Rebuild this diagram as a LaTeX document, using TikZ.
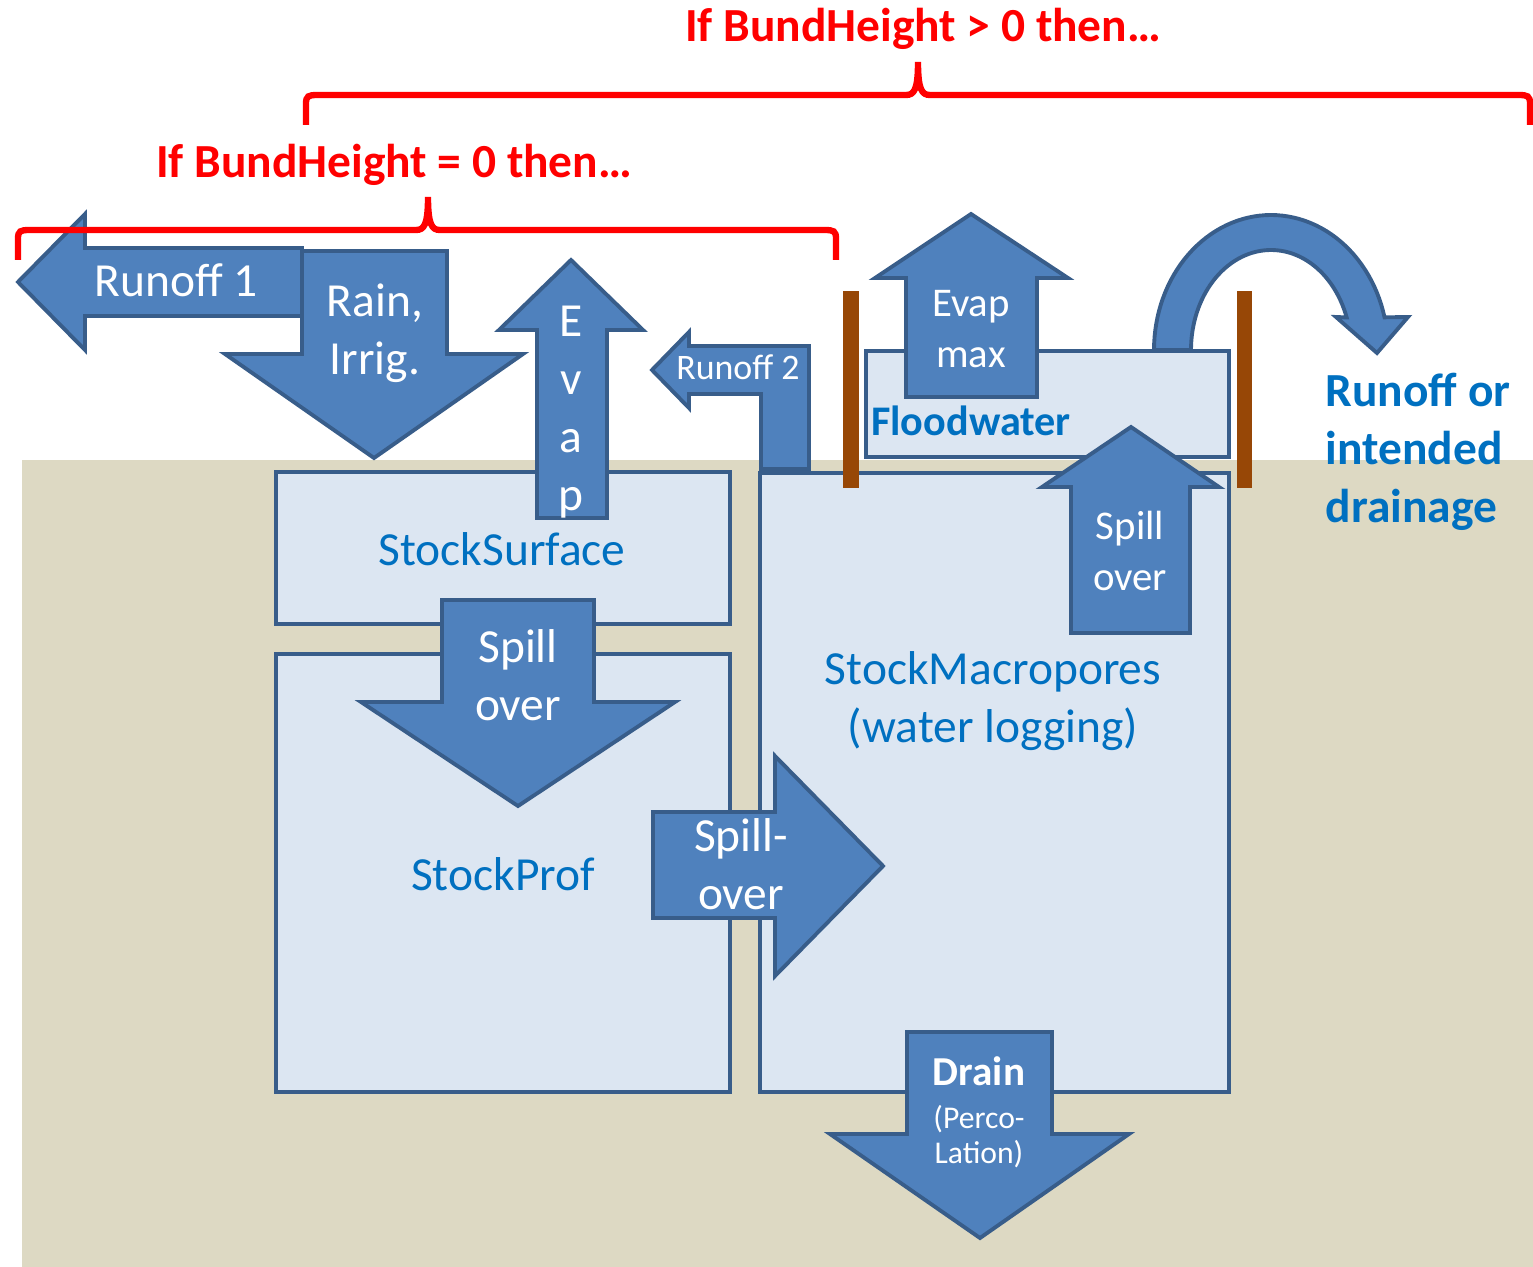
\documentclass[tikz,border=0pt]{standalone}
\usepackage{fontspec}
\setmainfont{Carlito}
\definecolor{flowfill}{HTML}{4F81BD}
\definecolor{flowline}{HTML}{385D8A}
\definecolor{storefill}{HTML}{DCE6F2}
\definecolor{soil}{HTML}{DDD9C3}
\definecolor{bundwood}{HTML}{974706}
\definecolor{stockblue}{HTML}{0070C0}
\begin{document}
\begin{tikzpicture}[x=0.01cm, y=-0.01cm,
    store/.style={draw=flowline, fill=storefill, line width=1.1pt},
    flow/.style={draw=flowline, fill=flowfill, line width=1.1pt},
    bund/.style={fill=bundwood},
    cond/.style={draw=red, line width=1.8pt},
    condlbl/.style={text=red, inner sep=0pt, anchor=base, font=\bfseries\fontsize{13.5}{16.5}\selectfont},
    flowlbl/.style={text=white, align=center, inner sep=0pt, font=\fontsize{13.5}{16.5}\selectfont},
    smallflowlbl/.style={flowlbl, font=\fontsize{11.6}{14.6}\selectfont},
    stocklbl/.style={text=stockblue, align=center, inner sep=0pt, font=\fontsize{13.5}{16.5}\selectfont}]
    \useasboundingbox (0,0) rectangle (1533,1267);
    \fill[soil] (22,460) rectangle (1533,1267);

    \draw[store] (276,472) rectangle (730,624);
    \draw[store] (276,654) rectangle (730,1092);
    \draw[store] (760,473) rectangle (1229,1092);
    \draw[store] (866,351) rectangle (1229,457);

    \fill[bund] (843,291) rectangle (859,488);
    \fill[bund] (1237,291) rectangle (1252,488);

    \draw[flow] (18,282) -- (85,214) -- (85,248) -- (302,248) -- (302,316) -- (85,316) -- (85,350) -- cycle;
    \draw[flow] (302,251) -- (447,251) -- (447,354) -- (523,354) -- (374,458) -- (225,354) -- (302,354) -- cycle;
    \draw[flow] (571,260) -- (643,330) -- (607,330) -- (607,518) -- (537,518) -- (537,330) -- (499,330) -- cycle;
    \draw[flow] (652,370) -- (689,332) -- (689,346) -- (809,346) -- (809,469) -- (761,469) -- (761,394) -- (689,394) -- (689,408) -- cycle;
    \draw[flow] (971,214) -- (1068,278) -- (1037,278) -- (1037,397) -- (906,397) -- (906,278) -- (875,278) -- cycle;
    \draw[flow] plot[domain=180:14, samples=60] ({1271+117*cos(\x)},{350-135*sin(\x)}) -- (1408,317) -- (1377,353) -- (1336,317)
        -- plot[domain=19:180, samples=60] ({1271+80*cos(\x)},{350-100*sin(\x)}) -- cycle;
    \draw[flow] (1131,427) -- (1219,487) -- (1190,487) -- (1190,633) -- (1071,633) -- (1071,487) -- (1042,487) -- cycle;
    \draw[flow] (442,600) -- (594,600) -- (594,702) -- (675,702) -- (518,806) -- (361,702) -- (442,702) -- cycle;
    \draw[flow] (653,812) -- (775,812) -- (775,756) -- (883,866) -- (775,976) -- (775,918) -- (653,918) -- cycle;
    \draw[flow] (907,1032) -- (1052,1032) -- (1052,1134) -- (1129,1134) -- (980,1238) -- (830,1134) -- (907,1134) -- cycle;

    \draw[cond] (306,125) -- (306,104) .. controls (306,96) and (308,95) .. (318,95) -- (906,95)
        .. controls (914,95) and (918,90) .. (918,62) .. controls (918,90) and (922,95) .. (930,95)
        -- (1518,95) .. controls (1528,95) and (1530,96) .. (1530,104) -- (1530,125);
    \draw[cond] (18,260) -- (18,239) .. controls (18,231) and (20,230) .. (30,230) -- (416,230)
        .. controls (424,230) and (428,225) .. (428,197) .. controls (428,225) and (432,230) .. (440,230)
        -- (824,230) .. controls (834,230) and (836,231) .. (836,239) -- (836,260);

    \node[condlbl] (bundpos) at (923,42) {If BundHeight > 0 then…};
    \node[condlbl] (bundzero) at (394,178) {If BundHeight = 0 then…};

    \node[flowlbl, anchor=base] (runoffone) at (176,297) {Runoff 1};
    \node[flowlbl] (rain) at (375,333) {Rain,\\Irrig.};
    \node[flowlbl] (evap) at (571,412) {E\\v\\a\\p};
    \node[flowlbl, anchor=base, font=\fontsize{10.2}{12.5}\selectfont] (runofftwo) at (738,380) {Runoff 2};
    \node[smallflowlbl] (evapmax) at (971,329) {Evap\\max};
    \node[smallflowlbl] (spillup) at (1130,551) {Spill\\over};
    \node[flowlbl] (spilldown) at (518,675) {Spill\\over};
    \node[flowlbl] (spillright) at (741,864) {Spill-\\over};
    \node[flowlbl, anchor=base, font=\bfseries\fontsize{11.7}{14}\selectfont] (drain) at (979,1085) {Drain};
    \node[flowlbl, font=\fontsize{9}{10}\selectfont] (perco) at (979,1137) {(Perco-\\Lation)};

    \node[stocklbl, anchor=base, font=\bfseries\fontsize{12}{14.5}\selectfont] (flood) at (971,436) {Floodwater};
    \node[stocklbl, anchor=base] (surface) at (502,565) {StockSurface};
    \node[stocklbl, anchor=base] (prof) at (503,890) {StockProf};
    \node[stocklbl] (macro) at (993,701) {StockMacropores\\(water logging)};
    \node[stocklbl, align=left, anchor=west, font=\bfseries\fontsize{13.5}{16.5}\selectfont] (runoffdrain) at (1325,452) {Runoff or\\intended\\drainage};
\end{tikzpicture}
\end{document}
